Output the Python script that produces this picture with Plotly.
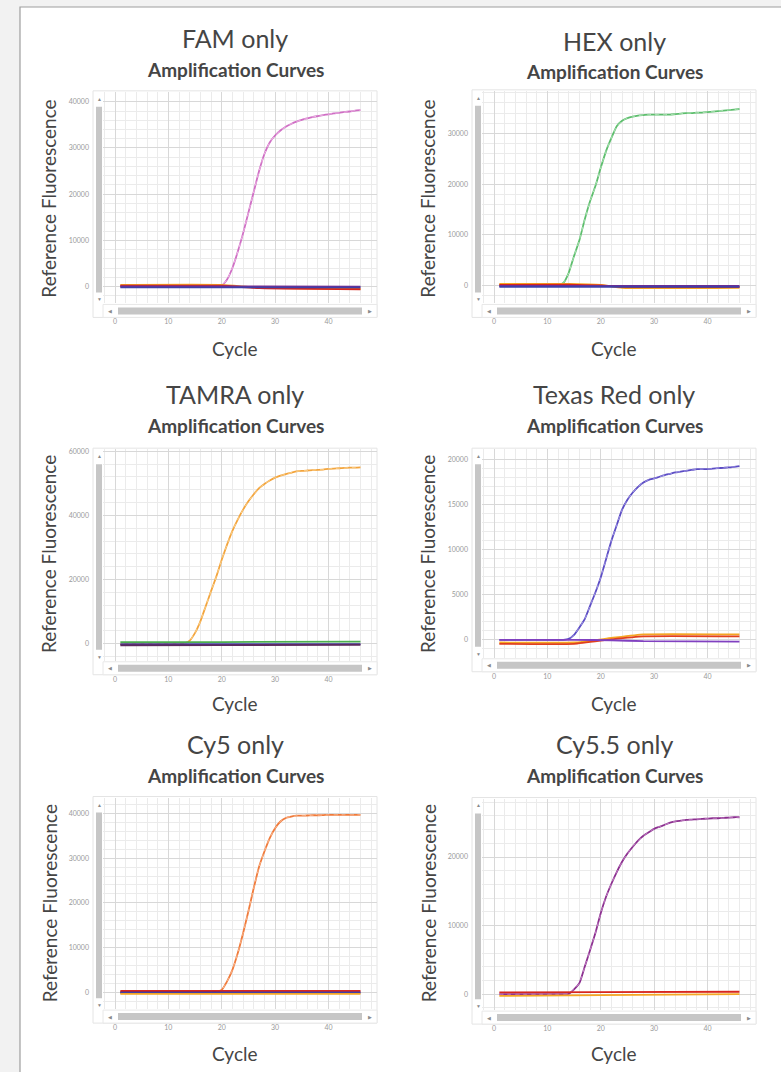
import plotly.graph_objects as go

# ---------------- data ----------------
CYCLES = [1, 2, 3, 4, 5, 6, 7, 8, 9, 10, 11, 12, 13, 14, 15, 16, 17, 18, 19, 20,
          21, 22, 23, 24, 25, 26, 27, 28, 29, 30, 31, 32, 33, 34, 35, 36, 37, 38, 39, 40,
          41, 42, 43, 44, 45, 46]

PANEL_TITLES = ["FAM only", "HEX only", "TAMRA only", "Texas Red only", "Cy5 only", "Cy5.5 only"]
SUBTITLE = "Amplification Curves"
X_TITLE = "Cycle"
Y_TITLE = "Reference Fluorescence"

X_TICKS = [0, 10, 20, 30, 40]
Y_TICKS_FAM = [0, 10000, 20000, 30000, 40000]
Y_TICKS_HEX = [0, 10000, 20000, 30000]
Y_TICKS_TAMRA = [0, 20000, 40000, 60000]
Y_TICKS_TEXAS = [0, 5000, 10000, 15000, 20000]
Y_TICKS_CY5 = [0, 10000, 20000, 30000, 40000]
Y_TICKS_CY55 = [0, 10000, 20000]

FAM_Y = [0, 0, 0, 0, 0, 0, 0, 0, 0, 0, 0, 0, 0, 0, 0, 0, 0, 0, 0, 200,
         1500, 4000, 7500, 11500, 16000, 20500, 25000, 28700, 31200, 32700,
         33800, 34600, 35200, 35700, 36100, 36400, 36700, 36900, 37100, 37300,
         37500, 37600, 37800, 37900, 38100, 38200]
HEX_Y = [0, 0, 0, 0, 0, 0, 0, 0, 0, 0, 0, 100, 500, 2500, 5800, 8900, 13000, 16600, 19600, 23200,
         26500, 29100, 31400, 32500, 33000, 33300, 33500, 33600, 33700, 33700,
         33700, 33700, 33700, 33800, 33900, 34000, 34000, 34100, 34100, 34200,
         34300, 34400, 34500, 34600, 34700, 34800]
TAMRA_Y = [0, 0, 0, 0, 0, 0, 0, 0, 0, 0, 0, 0, 100, 1000, 3400, 7000, 11700, 16400, 21000, 26200,
           30900, 35200, 38700, 41800, 44400, 46600, 48500, 49800, 50900, 51800,
           52400, 52900, 53300, 53700, 53900, 54000, 54100, 54200, 54300, 54500,
           54600, 54700, 54800, 54900, 54900, 55000]
TEXAS_Y = [0, 0, 0, 0, 0, 0, 0, 0, 0, 0, 0, 0, 0, 100, 550, 1370, 2290, 3760, 5240, 6900,
           8930, 10960, 12700, 14400, 15500, 16310, 16940, 17420, 17710, 17860,
           18050, 18230, 18380, 18530, 18620, 18710, 18800, 18890, 18890, 18890,
           18950, 19000, 19040, 19080, 19150, 19230]
CY5_Y = [0, 0, 0, 0, 0, 0, 0, 0, 0, 0, 0, 0, 0, 0, 0, 0, 0, 0, 100, 500,
         2400, 5000, 8700, 13200, 18100, 23300, 28100, 31500, 34500, 36700,
         38200, 39000, 39300, 39500, 39500, 39550, 39600, 39600, 39650, 39700,
         39700, 39700, 39700, 39700, 39700, 39700]
CY55_Y = [0, 0, 0, 0, 0, 0, 0, 0, 0, 0, 0, 0, 0, 50, 700, 1600, 4000, 6400, 8900, 11800,
          14200, 16100, 17800, 19300, 20500, 21500, 22400, 23100, 23600, 24100,
          24400, 24700, 25000, 25200, 25300, 25400, 25450, 25500, 25550, 25600,
          25650, 25650, 25700, 25750, 25800, 25800]

# baseline (non-amplified) channels, sampled at a few cycles
FAM_BASE_X = [1, 20, 27, 46]
FAM_BASE = {"#f5a623": [350, 350, -250, -550], "#d7261e": [150, 150, -350, -600],
            "#7b2d8e": [0, 0, 0, -50], "#3f3fa8": [-200, -200, -200, -200]}
HEX_BASE_X = [1, 14, 20, 24, 46]
HEX_BASE = {"#f5a623": [300, 300, 100, -450, -450], "#d7261e": [100, 150, 0, -250, -300],
            "#7b2d8e": [-100, -100, -100, -100, -100], "#3f3fa8": [-250, -250, -250, -250, -250]}
TAMRA_BASE_X = [1, 20, 46]
TAMRA_BASE = {"#4caf50": [500, 550, 700], "#3f3fa8": [-100, -100, -100],
              "#5c2a5e": [-450, -400, -300]}
TEXAS_BASE_X = [1, 15, 22, 28, 46]
TEXAS_BASE = {"#f5a623": [-300, -300, 200, 600, 600], "#e0401e": [-450, -450, 50, 380, 380],
              "#8040c0": [0, 0, -50, -150, -200]}
CY5_BASE_X = [1, 20, 46]
CY5_BASE = {"#d7261e": [300, 300, 300], "#7a1c5c": [0, 0, 0],
            "#3f3fa8": [-150, -150, -150], "#f5a623": [-400, -400, -400]}
CY55_BASE_X = [1, 20, 46]
CY55_BASE = {"#d7261e": [250, 300, 350], "#f5a623": [-250, -150, 0]}

CURVE_COLORS = [("#cf6ec4", "#f2c2ea"), ("#5cbd6c", "#b6e6bd"), ("#f3a43c", "#fbd79a"),
                ("#5b4cc4", "#a79ee6"), ("#f07a3a", "#f9c09c"), ("#8b2f8f", "#c98ccc")]

# ---------------- layout ----------------
W, H = 781, 1072
FONT = "Lato"
TXT = "#454545"


def px(x):
    return x / W


def py(y):
    return 1 - y / H


COLS = [dict(gl=103, gr=377, cx=235, yx=49), dict(gl=482, gr=756, cx=614, yx=428)]
PANELS = [
    dict(title=PANEL_TITLES[0], y=FAM_Y, bx=FAM_BASE_X, base=FAM_BASE, ticks=Y_TICKS_FAM, minor=2000,
         col=0, gt=90, gb=302, yr=[-3676, 42162], t1=36, t2=68, yc=197, cyc=347),
    dict(title=PANEL_TITLES[1], y=HEX_Y, bx=HEX_BASE_X, base=HEX_BASE, ticks=Y_TICKS_HEX, minor=2000,
         col=1, gt=89, gb=302, yr=[-3543, 38386], t1=39, t2=70, yc=197, cyc=347),
    dict(title=PANEL_TITLES[2], y=TAMRA_Y, bx=TAMRA_BASE_X, base=TAMRA_BASE, ticks=Y_TICKS_TAMRA, minor=4000,
         col=0, gt=448, gb=660, yr=[-5288, 60653], t1=393, t2=424, yc=553, cyc=703),
    dict(title=PANEL_TITLES[3], y=TEXAS_Y, bx=TEXAS_BASE_X, base=TEXAS_BASE, ticks=Y_TICKS_TEXAS, minor=1000,
         col=1, gt=448, gb=657, yr=[-1989, 21105], t1=393, t2=424, yc=553, cyc=703),
    dict(title=PANEL_TITLES[4], y=CY5_Y, bx=CY5_BASE_X, base=CY5_BASE, ticks=Y_TICKS_CY5, minor=2000,
         col=0, gt=797, gb=1009, yr=[-3799, 43575], t1=743, t2=775, yc=903, cyc=1053),
    dict(title=PANEL_TITLES[5], y=CY55_Y, bx=CY55_BASE_X, base=CY55_BASE, ticks=Y_TICKS_CY55, minor=2000,
         col=1, gt=798, gb=1010, yr=[-2329, 28530], t1=743, t2=775, yc=903, cyc=1053),
]

fig = go.Figure()
shapes = []
annotations = []
layout_axes = {}

# card background
shapes.append(dict(type="rect", xref="paper", yref="paper", x0=px(20), x1=px(W + 5), y0=py(H + 5), y1=py(5),
                   fillcolor="white", line=dict(color="#9e9e9e", width=1.2), layer="below"))

for i, p in enumerate(PANELS):
    n = "" if i == 0 else str(i + 1)
    xa, ya = "x" + n, "y" + n
    c = COLS[p["col"]]
    gl, gr, gt, gb = c["gl"], c["gr"], p["gt"], p["gb"]
    main_c, light_c = CURVE_COLORS[i]

    # amplification curve (solid + light dashed overlay)
    fig.add_trace(go.Scatter(x=CYCLES, y=p["y"], mode="lines",
                             line=dict(color=main_c, width=1.8, shape="spline", smoothing=0.5),
                             xaxis=xa, yaxis=ya, showlegend=False, name=p["title"]))
    fig.add_trace(go.Scatter(x=CYCLES, y=p["y"], mode="lines",
                             line=dict(color=light_c, width=0.9, dash="4px,4px", shape="spline", smoothing=0.5),
                             xaxis=xa, yaxis=ya, showlegend=False, hoverinfo="skip"))
    # baselines
    for col_hex, vals in p["base"].items():
        fig.add_trace(go.Scatter(x=p["bx"], y=vals, mode="lines",
                                 line=dict(color=col_hex, width=1.8, shape="spline", smoothing=0.4),
                                 xaxis=xa, yaxis=ya, showlegend=False))

    layout_axes["xaxis" + n] = dict(
        domain=[px(gl), px(gr)], range=[-2.25, 49.1], anchor=ya,
        tickmode="array", tickvals=X_TICKS, ticktext=[str(v) for v in X_TICKS],
        showgrid=True, gridcolor="#d8d8d8", gridwidth=1, zeroline=False, showline=False, ticks="",
        minor=dict(dtick=2, tick0=0, showgrid=True, gridcolor="#ebebeb", gridwidth=1),
        tickfont=dict(family=FONT, size=7, color="#9a9a9a"), ticklabelstandoff=13, fixedrange=True)
    layout_axes["yaxis" + n] = dict(
        domain=[py(gb), py(gt)], range=p["yr"], anchor=xa,
        tickmode="array", tickvals=p["ticks"], ticktext=[str(v) for v in p["ticks"]],
        showgrid=True, gridcolor="#d8d8d8", gridwidth=1, zeroline=False, showline=False, ticks="",
        minor=dict(dtick=p["minor"], tick0=0, showgrid=True, gridcolor="#ebebeb", gridwidth=1),
        tickfont=dict(family=FONT, size=7, color="#9a9a9a"), ticklabelstandoff=13, fixedrange=True)

    # chart frame with scrollbars
    shapes.append(dict(type="rect", xref="paper", yref="paper", x0=px(gl - 10), x1=px(gr), y0=py(gb + 14),
                       y1=py(gt - 1), fillcolor="white", line=dict(color="#e4e4e4", width=1), layer="below"))
    shapes.append(dict(type="rect", xref="paper", yref="paper", x0=px(gl), x1=px(gr), y0=py(gb + 14),
                       y1=py(gb + 1), fillcolor="white", line=dict(color="#e8e8e8", width=1), layer="below"))
    shapes.append(dict(type="rect", xref="paper", yref="paper", x0=px(gl + 15), x1=px(gr - 15), y0=py(gb + 11),
                       y1=py(gb + 4), fillcolor="#c6c6c6", line=dict(width=0), layer="below"))
    shapes.append(dict(type="rect", xref="paper", yref="paper", x0=px(gl - 7), x1=px(gl - 1), y0=py(gb - 11),
                       y1=py(gt + 15), fillcolor="#c6c6c6", line=dict(width=0), layer="below"))
    for (ax_, ay_, sym) in [(gl - 4, gt + 7, "▲"), (gl - 4, gb - 4, "▼"), (gl + 7, gb + 7.5, "◀"),
                            (gr - 7, gb + 7.5, "▶")]:
        annotations.append(dict(xref="paper", yref="paper", x=px(ax_), y=py(ay_), text=sym, showarrow=False,
                                xanchor="center", yanchor="middle", font=dict(size=5, color="#8a8a8a")))

    # titles
    annotations.append(dict(xref="paper", yref="paper", x=px(c["cx"]), y=py(p["t1"]), text=p["title"],
                            showarrow=False, xanchor="center", yanchor="middle",
                            font=dict(family=FONT, size=25, color=TXT)))
    annotations.append(dict(xref="paper", yref="paper", x=px(c["cx"]), y=py(p["t2"]), text=SUBTITLE,
                            showarrow=False, xanchor="center", yanchor="middle",
                            font=dict(family=FONT, size=19, color=TXT, weight="bold")))
    annotations.append(dict(xref="paper", yref="paper", x=px(c["cx"]), y=py(p["cyc"]), text=X_TITLE,
                            showarrow=False, xanchor="center", yanchor="middle",
                            font=dict(family=FONT, size=19, color=TXT)))
    annotations.append(dict(xref="paper", yref="paper", x=px(c["yx"]), y=py(p["yc"]), text=Y_TITLE,
                            showarrow=False, xanchor="center", yanchor="middle", textangle=-90,
                            font=dict(family=FONT, size=19, color=TXT)))

fig.update_layout(
    width=W, height=H, margin=dict(l=0, r=0, t=0, b=0),
    paper_bgcolor="#f2f2f2", plot_bgcolor="#fbfbfb",
    shapes=shapes, annotations=annotations, showlegend=False,
    font=dict(family=FONT, color=TXT),
    **layout_axes)

fig.write_html("out.html", config={"displayModeBar": False},
               post_script="document.body.style.margin='0';document.body.style.overflow='hidden';")
